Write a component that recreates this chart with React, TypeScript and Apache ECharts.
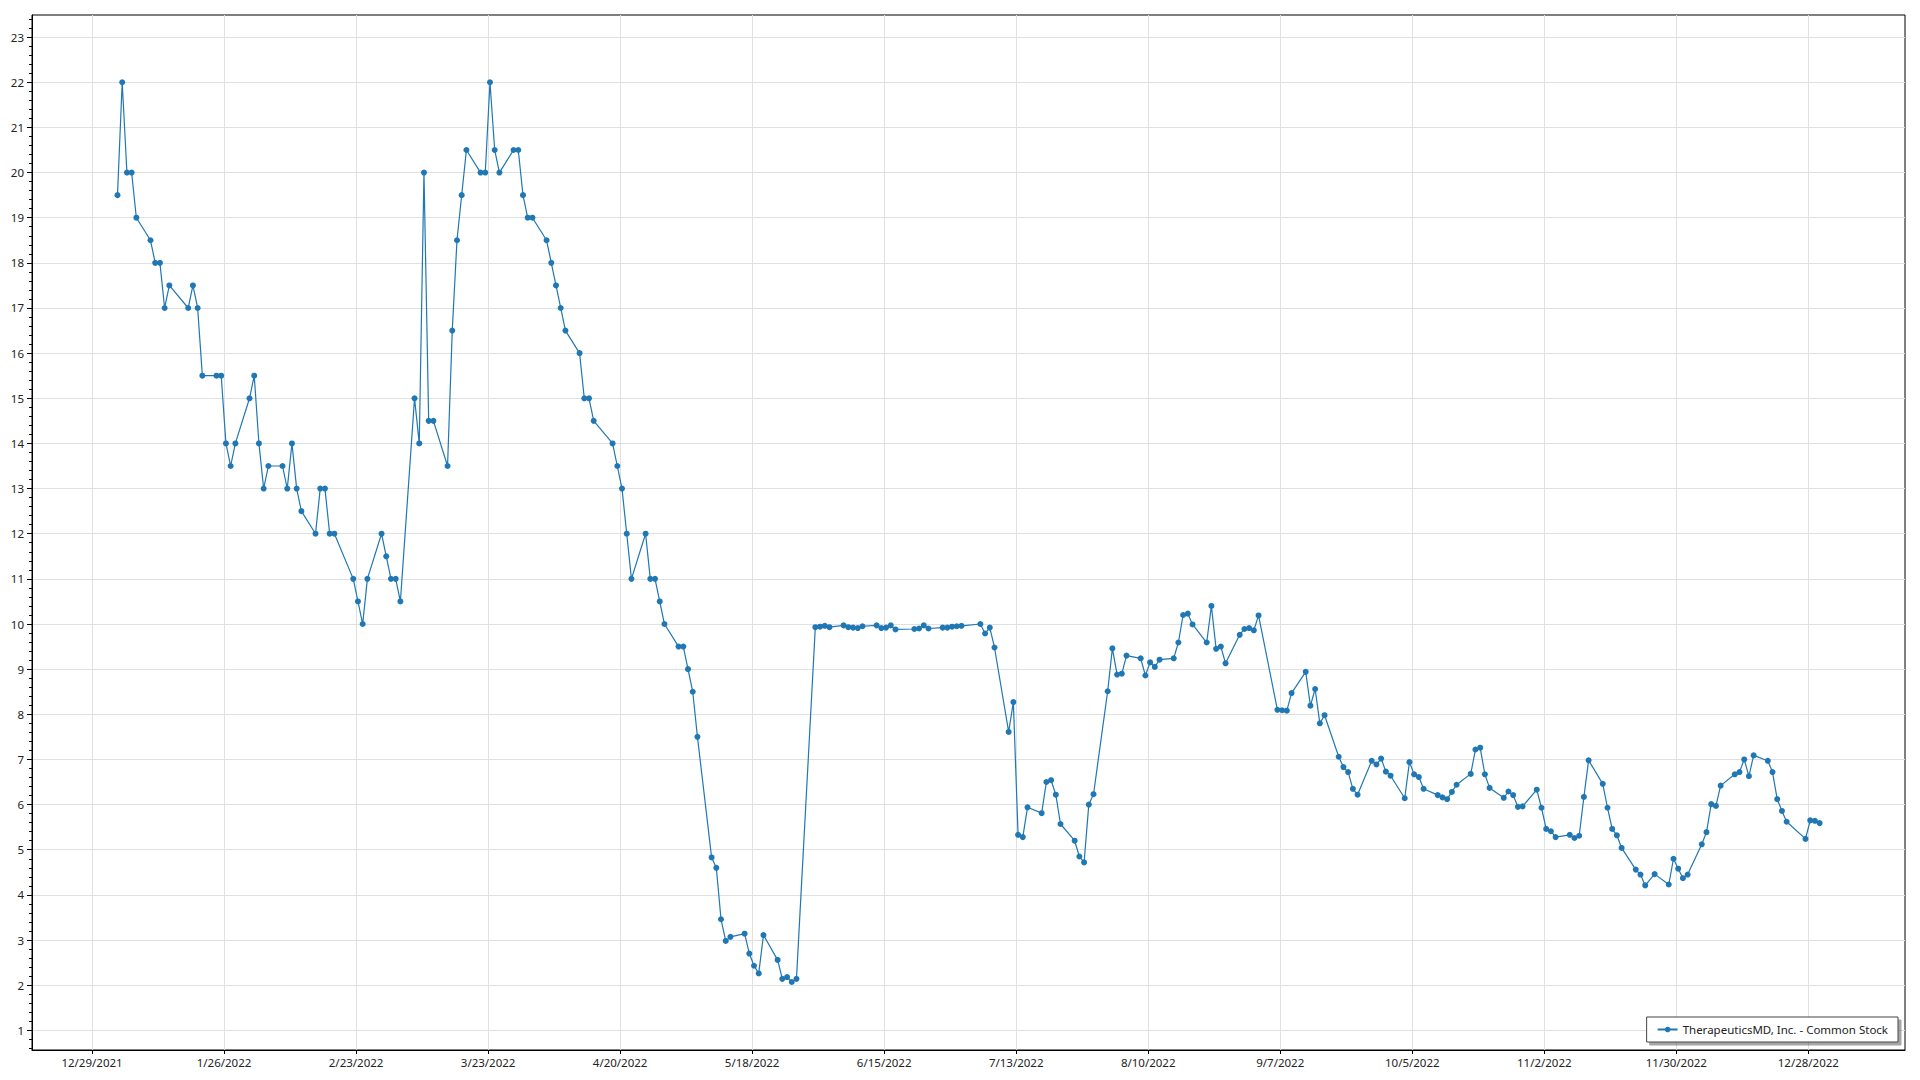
import React, { useEffect, useRef } from "react";
import * as echarts from "echarts";

const seriesName = "TherapeuticsMD, Inc. - Common Stock";

const tradeDates = [
  "2022-01-03","2022-01-04","2022-01-05","2022-01-06","2022-01-07",
  "2022-01-10","2022-01-11","2022-01-12","2022-01-13","2022-01-14",
  "2022-01-18","2022-01-19","2022-01-20","2022-01-21",
  "2022-01-24","2022-01-25","2022-01-26","2022-01-27","2022-01-28",
  "2022-01-31","2022-02-01","2022-02-02","2022-02-03","2022-02-04",
  "2022-02-07","2022-02-08","2022-02-09","2022-02-10","2022-02-11",
  "2022-02-14","2022-02-15","2022-02-16","2022-02-17","2022-02-18",
  "2022-02-22","2022-02-23","2022-02-24","2022-02-25",
  "2022-02-28","2022-03-01","2022-03-02","2022-03-03","2022-03-04",
  "2022-03-07","2022-03-08","2022-03-09","2022-03-10","2022-03-11",
  "2022-03-14","2022-03-15","2022-03-16","2022-03-17","2022-03-18",
  "2022-03-21","2022-03-22","2022-03-23","2022-03-24","2022-03-25",
  "2022-03-28","2022-03-29","2022-03-30","2022-03-31","2022-04-01",
  "2022-04-04","2022-04-05","2022-04-06","2022-04-07","2022-04-08",
  "2022-04-11","2022-04-12","2022-04-13","2022-04-14",
  "2022-04-18","2022-04-19","2022-04-20","2022-04-21","2022-04-22",
  "2022-04-25","2022-04-26","2022-04-27","2022-04-28","2022-04-29",
  "2022-05-02","2022-05-03","2022-05-04","2022-05-05","2022-05-06",
  "2022-05-09","2022-05-10","2022-05-11","2022-05-12","2022-05-13",
  "2022-05-16","2022-05-17","2022-05-18","2022-05-19","2022-05-20",
  "2022-05-23","2022-05-24","2022-05-25","2022-05-26","2022-05-27",
  "2022-05-31","2022-06-01","2022-06-02","2022-06-03",
  "2022-06-06","2022-06-07","2022-06-08","2022-06-09","2022-06-10",
  "2022-06-13","2022-06-14","2022-06-15","2022-06-16","2022-06-17",
  "2022-06-21","2022-06-22","2022-06-23","2022-06-24",
  "2022-06-27","2022-06-28","2022-06-29","2022-06-30","2022-07-01",
  "2022-07-05","2022-07-06","2022-07-07","2022-07-08",
  "2022-07-11","2022-07-12","2022-07-13","2022-07-14","2022-07-15",
  "2022-07-18","2022-07-19","2022-07-20","2022-07-21","2022-07-22",
  "2022-07-25","2022-07-26","2022-07-27","2022-07-28","2022-07-29",
  "2022-08-01","2022-08-02","2022-08-03","2022-08-04","2022-08-05",
  "2022-08-08","2022-08-09","2022-08-10","2022-08-11","2022-08-12",
  "2022-08-15","2022-08-16","2022-08-17","2022-08-18","2022-08-19",
  "2022-08-22","2022-08-23","2022-08-24","2022-08-25","2022-08-26",
  "2022-08-29","2022-08-30","2022-08-31","2022-09-01","2022-09-02",
  "2022-09-06","2022-09-07","2022-09-08","2022-09-09",
  "2022-09-12","2022-09-13","2022-09-14","2022-09-15","2022-09-16",
  "2022-09-19","2022-09-20","2022-09-21","2022-09-22","2022-09-23",
  "2022-09-26","2022-09-27","2022-09-28","2022-09-29","2022-09-30",
  "2022-10-03","2022-10-04","2022-10-05","2022-10-06","2022-10-07",
  "2022-10-10","2022-10-11","2022-10-12","2022-10-13","2022-10-14",
  "2022-10-17","2022-10-18","2022-10-19","2022-10-20","2022-10-21",
  "2022-10-24","2022-10-25","2022-10-26","2022-10-27","2022-10-28",
  "2022-10-31","2022-11-01","2022-11-02","2022-11-03","2022-11-04",
  "2022-11-07","2022-11-08","2022-11-09","2022-11-10","2022-11-11",
  "2022-11-14","2022-11-15","2022-11-16","2022-11-17","2022-11-18",
  "2022-11-21","2022-11-22","2022-11-23","2022-11-25",
  "2022-11-28","2022-11-29","2022-11-30","2022-12-01","2022-12-02",
  "2022-12-05","2022-12-06","2022-12-07","2022-12-08","2022-12-09",
  "2022-12-12","2022-12-13","2022-12-14","2022-12-15","2022-12-16",
  "2022-12-19","2022-12-20","2022-12-21","2022-12-22","2022-12-23",
  "2022-12-27","2022-12-28","2022-12-29","2022-12-30"
];

const closePrices = [
  19.5, 22, 20, 20, 19,
  18.5, 18, 18, 17, 17.5,
  17, 17.5, 17, 15.5,
  15.5, 15.5, 14, 13.5, 14,
  15, 15.5, 14, 13, 13.5,
  13.5, 13, 14, 13, 12.5,
  12, 13, 13, 12, 12,
  11, 10.5, 10, 11,
  12, 11.5, 11, 11, 10.5,
  15, 14, 20, 14.5, 14.5,
  13.5, 16.5, 18.5, 19.5, 20.5,
  20, 20, 22, 20.5, 20,
  20.5, 20.5, 19.5, 19, 19,
  18.5, 18, 17.5, 17, 16.5,
  16, 15, 15, 14.5,
  14, 13.5, 13, 12, 11,
  12, 11, 11, 10.5, 10,
  9.5, 9.5, 9, 8.5, 7.5,
  4.83, 4.6, 3.46, 2.98, 3.07,
  3.14, 2.7, 2.43, 2.26, 3.11,
  2.56, 2.14, 2.18, 2.07, 2.14,
  9.93, 9.94, 9.96, 9.93,
  9.97, 9.93, 9.92, 9.91, 9.95,
  9.97, 9.91, 9.92, 9.97, 9.88,
  9.89, 9.9, 9.97, 9.9,
  9.92, 9.92, 9.94, 9.95, 9.96,
  10.0, 9.79, 9.92, 9.48,
  7.61, 8.27, 5.33, 5.28, 5.94,
  5.81, 6.5, 6.54, 6.22, 5.57,
  5.2, 4.85, 4.72, 6.0, 6.23,
  8.51, 9.46, 8.88, 8.9, 9.3,
  9.24, 8.86, 9.15, 9.05, 9.21,
  9.24, 9.59, 10.2, 10.23, 9.99,
  9.59, 10.4, 9.45, 9.5, 9.13,
  9.76, 9.89, 9.91, 9.86, 10.19,
  8.1, 8.09, 8.08, 8.47,
  8.94, 8.19, 8.56, 7.8, 7.98,
  7.06, 6.83, 6.72, 6.35, 6.22,
  6.97, 6.89, 7.02, 6.73, 6.64,
  6.14, 6.94, 6.67, 6.61, 6.35,
  6.21, 6.16, 6.12, 6.28, 6.44,
  6.68, 7.22, 7.26, 6.67, 6.37,
  6.15, 6.29, 6.21, 5.95, 5.96,
  6.33, 5.93, 5.46, 5.41, 5.28,
  5.33, 5.26, 5.31, 6.17, 6.98,
  6.46, 5.93, 5.46, 5.32, 5.04,
  4.56, 4.45, 4.21, 4.46,
  4.23, 4.8, 4.58, 4.37, 4.45,
  5.12, 5.39, 6.01, 5.97, 6.42,
  6.67, 6.72, 7.0, 6.63, 7.09,
  6.97, 6.72, 6.12, 5.86, 5.62,
  5.24, 5.65, 5.64, 5.59
];

const xTickLabels = [
  "12/29/2021", "1/26/2022", "2/23/2022", "3/23/2022", "4/20/2022",
  "5/18/2022", "6/15/2022", "7/13/2022", "8/10/2022", "9/7/2022",
  "10/5/2022", "11/2/2022", "11/30/2022", "12/28/2022"
];

const yTickValues = [
  1, 2, 3, 4, 5, 6, 7, 8, 9, 10, 11, 12,
  13, 14, 15, 16, 17, 18, 19, 20, 21, 22, 23
];

const DAY = 86400000;

function parseMDY(s: string): number {
  const [m, d, y] = s.split("/").map(Number);
  return Date.UTC(y, m - 1, d);
}

export default function App() {
  const ref = useRef<HTMLDivElement>(null);

  useEffect(() => {
    if (!ref.current) return;
    const chart = echarts.init(ref.current, null, { renderer: "svg" });
    const xTickValues = xTickLabels.map(parseMDY);
    const origin = xTickValues[0];
    const points = tradeDates.map((d, i) => [
      Date.parse(d + "T00:00:00Z") + 0.4 * DAY,
      closePrices[i],
    ]);
    const font = "Noto Sans";
    const textColor = "#222";

    chart.setOption({
      animation: false,
      backgroundColor: "#ffffff",
      grid: {
        left: 32,
        right: 15,
        top: 15,
        bottom: 30,
        show: true,
        borderColor: "#000",
        borderWidth: 1,
        backgroundColor: "transparent",
        containLabel: false,
      },
      xAxis: {
        type: "value",
        min: origin - 12.73 * DAY,
        max: origin + 384.5 * DAY,
        axisLine: { show: true, onZero: false, lineStyle: { color: "#000", width: 1 } },
        axisTick: {
          show: true,
          customValues: xTickValues,
          length: 4,
          lineStyle: { color: "#000" },
        },
        axisLabel: {
          customValues: xTickValues,
          margin: 6,
          color: textColor,
          fontFamily: font,
          fontSize: 11.5,
          formatter: (v: number) => {
            const idx = xTickValues.indexOf(v);
            return idx >= 0 ? xTickLabels[idx] : "";
          },
        },
        splitLine: { show: true, lineStyle: { color: "#e0e0e0", width: 1 } },
        minorTick: { show: false },
      },
      yAxis: {
        type: "value",
        min: 0.564,
        max: 23.49,
        splitNumber: 23,
        axisLine: { show: true, onZero: false, lineStyle: { color: "#000", width: 1 } },
        axisTick: {
          show: true,
          customValues: yTickValues,
          length: 5,
          lineStyle: { color: "#000" },
        },
        minorTick: {
          show: true,
          splitNumber: 5,
          length: 3,
          lineStyle: { color: "#000" },
        },
        axisLabel: {
          customValues: yTickValues,
          margin: 8,
          color: textColor,
          fontFamily: font,
          fontSize: 11.5,
        },
        splitLine: { show: true, lineStyle: { color: "#e0e0e0", width: 1 } },
      },
      legend: {
        show: true,
        right: 22,
        bottom: 38,
        orient: "horizontal",
        padding: [5, 10, 5, 10],
        itemWidth: 20,
        itemHeight: 7,
        backgroundColor: "#ffffff",
        borderColor: "#444",
        borderWidth: 1,
        shadowColor: "rgba(0,0,0,0.35)",
        shadowBlur: 1,
        shadowOffsetX: 3,
        shadowOffsetY: 3,
        textStyle: { color: textColor, fontFamily: font, fontSize: 11.5, lineHeight: 15 },
        data: [seriesName],
      },
      series: [
        {
          name: seriesName,
          type: "line",
          data: points,
          symbol: "circle",
          symbolSize: 6,
          showSymbol: true,
          showAllSymbol: true,
          itemStyle: { color: "#1f77b4" },
          lineStyle: { color: "#1f77b4", width: 1.2 },
          emphasis: { disabled: true },
        },
      ],
    });

    return () => chart.dispose();
  }, []);

  return (
    <div
      ref={ref}
      style={{ position: "fixed", left: 0, top: 0, width: 1920, height: 1080 }}
    />
  );
}
